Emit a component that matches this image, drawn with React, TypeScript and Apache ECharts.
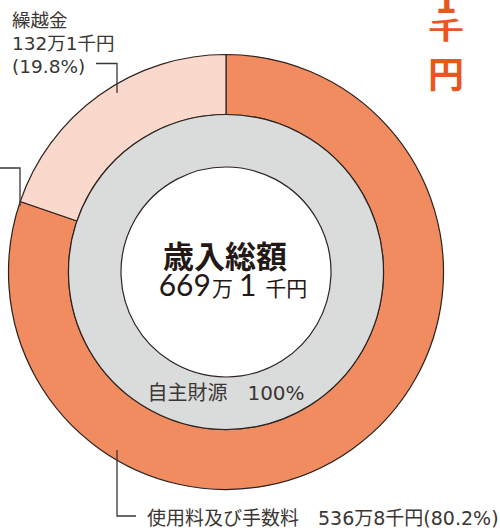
import React, { useEffect, useRef } from 'react';
import * as echarts from 'echarts';

// values in 千円 (thousand yen)
const outerNames = ['使用料及び手数料', '繰越金'];
const outerValues = [5368, 1321];
const outerPercents = ['80.2', '19.8'];
const innerNames = ['自主財源'];
const innerValues = [6689];
const innerPercents = ['100'];
const totalTitle = '歳入総額';
const totalValue = 6691;

const FONT = '"DejaVu Sans", "Noto Sans CJK JP", sans-serif';
const CJK = '"Noto Sans CJK JP", "Noto Sans", sans-serif';
const NUM = 'Lato, "Noto Sans CJK JP", sans-serif';
const TEXT = '#3a3634';
const LINE = '#2b2220';
const ORANGE_TXT = '#E9561F';

const man = (v: number) => Math.floor(v / 10);
const sen = (v: number) => v % 10;
const fmt = (v: number) => `${man(v)}万${sen(v)}千円`;

export default function App() {
  const ref = useRef<HTMLDivElement>(null);
  useEffect(() => {
    if (!ref.current) return;
    const chart = echarts.init(ref.current, null, { renderer: 'svg' });
    const cx = 226;
    const cy = 272;
    chart.setOption({
      animation: false,
      backgroundColor: '#ffffff',
      series: [
        {
          type: 'pie',
          silent: true,
          z: 2,
          center: [cx, cy],
          radius: [157.5, 217.5],
          startAngle: 90,
          clockwise: true,
          label: { show: false },
          labelLine: { show: false },
          itemStyle: { borderColor: LINE, borderWidth: 1.2 },
          data: outerNames.map((n, i) => ({
            name: n,
            value: outerValues[i],
            itemStyle: { color: ['#F18B60', '#FAD9CC'][i] },
          })),
        },
        {
          type: 'pie',
          silent: true,
          z: 2,
          center: [cx, cy],
          radius: [105, 157.5],
          startAngle: 90,
          label: { show: false },
          labelLine: { show: false },
          itemStyle: { borderColor: LINE, borderWidth: 1.2, color: '#DADCDB' },
          data: innerNames.map((n, i) => ({ name: n, value: innerValues[i] })),
        },
      ],
      graphic: {
        elements: [
          {
            type: 'text',
            z: 100,
            x: 12,
            y: 9,
            style: {
              text: `${outerNames[1]}\n${fmt(outerValues[1])}\n(${outerPercents[1]}%)`,
              font: `18.5px ${FONT}`,
              lineHeight: 23,
              fill: TEXT,
              verticalAlign: 'top',
            },
          },
          {
            type: 'polyline',
            z: 100,
            shape: { points: [[96, 63.5], [117, 63.5], [117, 93]] },
            style: { stroke: TEXT, lineWidth: 1.3, fill: null },
          },
          {
            type: 'polyline',
            z: 100,
            shape: { points: [[0, 168], [20, 168], [20, 206]] },
            style: { stroke: TEXT, lineWidth: 1.3, fill: null },
          },
          {
            type: 'polyline',
            z: 100,
            shape: { points: [[117, 450], [117, 516], [136, 516]] },
            style: { stroke: TEXT, lineWidth: 1.3, fill: null },
          },
          {
            type: 'text',
            z: 100,
            x: 147,
            y: 518,
            style: {
              text: `${outerNames[0]}　${fmt(outerValues[0])}(${outerPercents[0]}%)`,
              font: `19px ${FONT}`,
              fill: TEXT,
              verticalAlign: 'middle',
            },
          },
          {
            type: 'text',
            z: 100,
            x: cx - 1,
            y: 254,
            style: {
              text: totalTitle,
              font: `bold 31px ${CJK}`,
              fill: '#231815',
              align: 'center',
              verticalAlign: 'middle',
            },
          },
          {
            type: 'text',
            z: 100,
            x: cx + 7,
            y: 284,
            style: {
              text: `{d|${man(totalValue)}}{m|万}{d|${sen(totalValue)}}{k|千円}`,
              align: 'center',
              verticalAlign: 'middle',
              rich: {
                d: { font: `30px ${NUM}`, fill: '#231815' },
                m: { font: `21px ${CJK}`, fill: '#231815', padding: [5, 6, 0, 1] },
                k: { font: `21px ${CJK}`, fill: '#231815', padding: [5, 0, 0, 9] },
              },
            },
          },
          {
            type: 'text',
            z: 100,
            x: cx,
            y: 393,
            style: {
              text: `${innerNames[0]}　${innerPercents[0]}%`,
              font: `20px ${FONT}`,
              fill: TEXT,
              align: 'center',
              verticalAlign: 'middle',
            },
          },
          {
            type: 'text',
            z: 100,
            x: 446,
            y: 15,
            style: {
              text: '1',
              font: `bold 36px ${CJK}`,
              fill: ORANGE_TXT,
              align: 'center',
              verticalAlign: 'bottom',
            },
          },
          {
            type: 'text',
            z: 100,
            x: 446,
            y: 28.5,
            scaleY: 0.66,
            style: {
              text: '千',
              font: `bold 36px ${CJK}`,
              fill: ORANGE_TXT,
              align: 'center',
              verticalAlign: 'middle',
            },
          },
          {
            type: 'text',
            z: 100,
            x: 446,
            y: 72,
            style: {
              text: '円',
              font: `bold 36px ${CJK}`,
              fill: ORANGE_TXT,
              align: 'center',
              verticalAlign: 'middle',
            },
          },
        ],
      },
    });
    return () => chart.dispose();
  }, []);
  return (
    <div
      ref={ref}
      style={{ position: 'absolute', left: 0, top: 0, width: 500, height: 528 }}
    />
  );
}
